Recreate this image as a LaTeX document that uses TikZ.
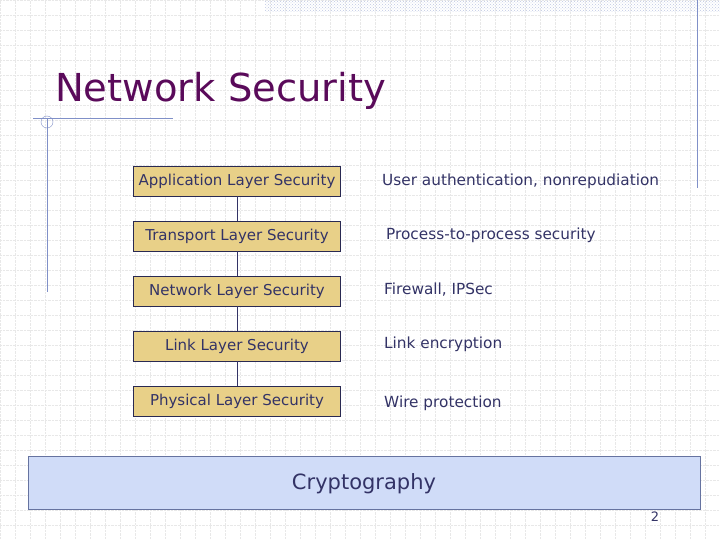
\documentclass[tikz,border=0pt]{standalone}
\usepackage{fontspec}
\setmainfont{DejaVu Sans}
\usetikzlibrary{patterns}
\definecolor{txt}{HTML}{333366}
\definecolor{ttl}{HTML}{5A0A5A}
\definecolor{boxf}{HTML}{E8D088}
\definecolor{crf}{HTML}{D0DCF8}
\definecolor{ln}{HTML}{8090C8}
\begin{document}
\begin{tikzpicture}[x=1pt,y=-1pt,
  layer/.style={draw=txt!80!black,fill=boxf,minimum width=207pt,minimum height=30pt,inner sep=0pt,font=\fontsize{15}{17}\selectfont,text=txt},
  desc/.style={anchor=west,inner sep=0pt,font=\fontsize{15.3}{17}\selectfont,text=txt}]
\useasboundingbox (0,0) rectangle (720,540);
\fill[white] (0,0) rectangle (720,540);
\draw[black!9,densely dotted,step=15pt] (0,0) grid (720,540);
\fill[pattern=crosshatch dots,pattern color=ln!50] (265,0) rectangle (720,12);
\draw[ln] (697,0) -- (697,188);
\draw[ln] (33,118) -- (173,118);
\draw[ln] (47,118) -- (47,292);
\draw[ln] (47,122) circle (6);
\node[anchor=base west,text=ttl,font=\fontsize{38.5}{40}\selectfont,inner sep=0pt] (title) at (55,102) {Network Security};
\node[layer] (a) at (237,181) {Application Layer Security};
\node[layer] (t) at (237,236) {Transport Layer Security};
\node[layer] (n) at (237,291) {Network Layer Security};
\node[layer] (l) at (237,346) {Link Layer Security};
\node[layer] (p) at (237,401) {Physical Layer Security};
\draw[txt] (a) -- (t) (t) -- (n) (n) -- (l) (l) -- (p);
\node[desc] (da) at (382,181) {User authentication, nonrepudiation};
\node[desc] (dt) at (386,235) {Process-to-process security};
\node[desc] (dn) at (384,290) {Firewall, IPSec};
\node[desc] (dl) at (384,344) {Link encryption};
\node[desc] (dp) at (384,403) {Wire protection};
\node[draw=ln!80!black,fill=crf,minimum width=672pt,minimum height=53pt,inner sep=0pt] (c) at (364,482.5) {};
\node[text=txt,font=\fontsize{21}{23}\selectfont] (ct) at (364,484) {Cryptography};
\node[text=txt,font=\fontsize{13}{15}\selectfont] (pg) at (655,517) {2};
\end{tikzpicture}
\end{document}
